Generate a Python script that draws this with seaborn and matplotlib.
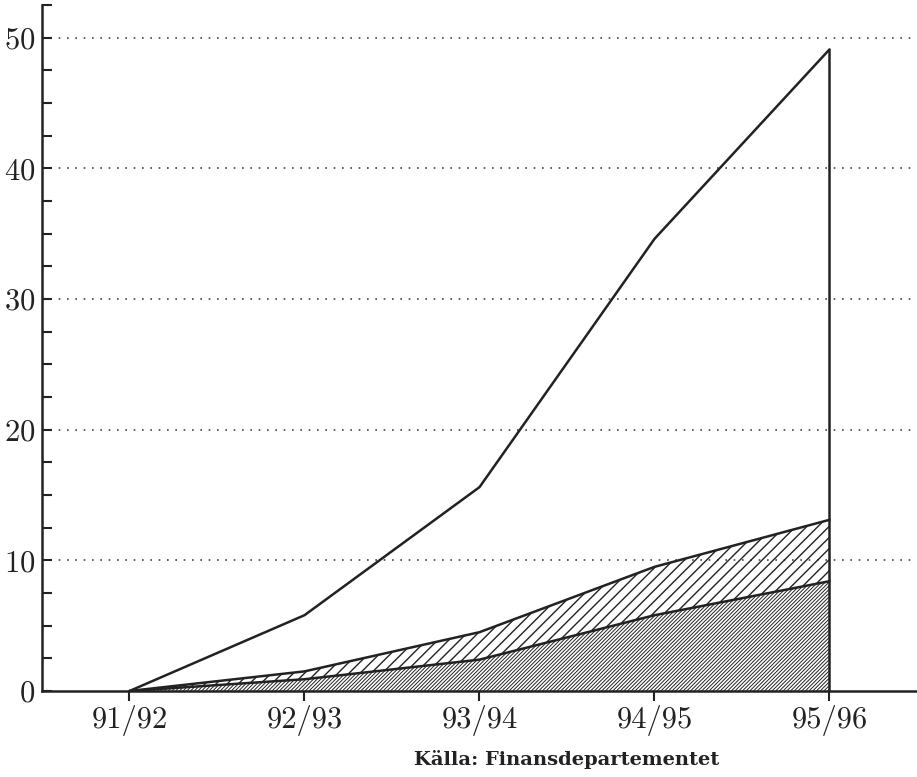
import matplotlib
matplotlib.use("Agg")
import matplotlib.pyplot as plt
import seaborn as sns
import numpy as np
import pandas as pd

years = ["91/92", "92/93", "93/94", "94/95", "95/96"]
total = [0.0, 5.8, 15.6, 34.6, 49.1]
middle = [0.0, 1.5, 4.5, 9.5, 13.1]
lower = [0.0, 0.9, 2.4, 5.8, 8.4]
yticks = [0, 10, 20, 30, 40, 50]
source = "Källa: Finansdepartementet"

sns.set_style("ticks")
plt.rcParams["axes.formatter.use_mathtext"] = True

fig = plt.figure(figsize=(9.17, 7.77), dpi=100)
ax = fig.add_axes([0.0458, 0.1107, 0.9542, 0.8829])

xpos = np.arange(len(years))
df = pd.DataFrame({"x": xpos, "total": total, "middle": middle, "lower": lower})

plt.rcParams["hatch.linewidth"] = 1.0
ax.fill_between(df["x"], df["lower"], df["middle"], facecolor="none",
                edgecolor="#222222", hatch="///", linewidth=0)
plt.rcParams["hatch.linewidth"] = 0.7
ax.fill_between(df["x"], 0, df["lower"], facecolor="none",
                edgecolor="#222222", hatch="/////////", linewidth=0)

for col in ["total", "middle", "lower"]:
    sns.lineplot(data=df, x="x", y=col, ax=ax, color="#222222", linewidth=1.8)
ax.vlines(xpos[-1], 0, total[-1], color="#222222", linewidth=1.8)

ax.set_xlim(-0.5, 4.5)
ax.set_ylim(0, 52.5)
ax.set_xticks(xpos)
ax.set_xticklabels(years)
ax.set_yticks(yticks)
ax.set_yticks(np.arange(0, 52.6, 2.5), minor=True)
ax.set_xlabel("")
ax.set_ylabel("")

for y in yticks[1:]:
    ax.axhline(y, color="#444444", linestyle=(0, (1, 4)), linewidth=1.2, zorder=0)

for s in ["top", "right"]:
    ax.spines[s].set_visible(False)
ax.spines["left"].set_linewidth(1.8)
ax.spines["bottom"].set_linewidth(1.8)
ax.spines["left"].set_color("#222222")
ax.spines["bottom"].set_color("#222222")

ax.tick_params(axis="y", which="both", direction="in", length=7, width=1.5,
               colors="#222222", pad=5)
ax.tick_params(axis="x", which="major", direction="out", length=7, width=1.5,
               colors="#222222", pad=3)
for lab in ax.get_xticklabels() + ax.get_yticklabels():
    lab.set_fontfamily("cmr10")
    lab.set_fontsize(22)
    lab.set_color("#222222")

fig.text(0.618, 0.022, source, ha="center", va="center",
         fontfamily="DejaVu Serif", fontweight="bold", fontsize=14, color="#222222")

fig.savefig("out.png", dpi=100)
